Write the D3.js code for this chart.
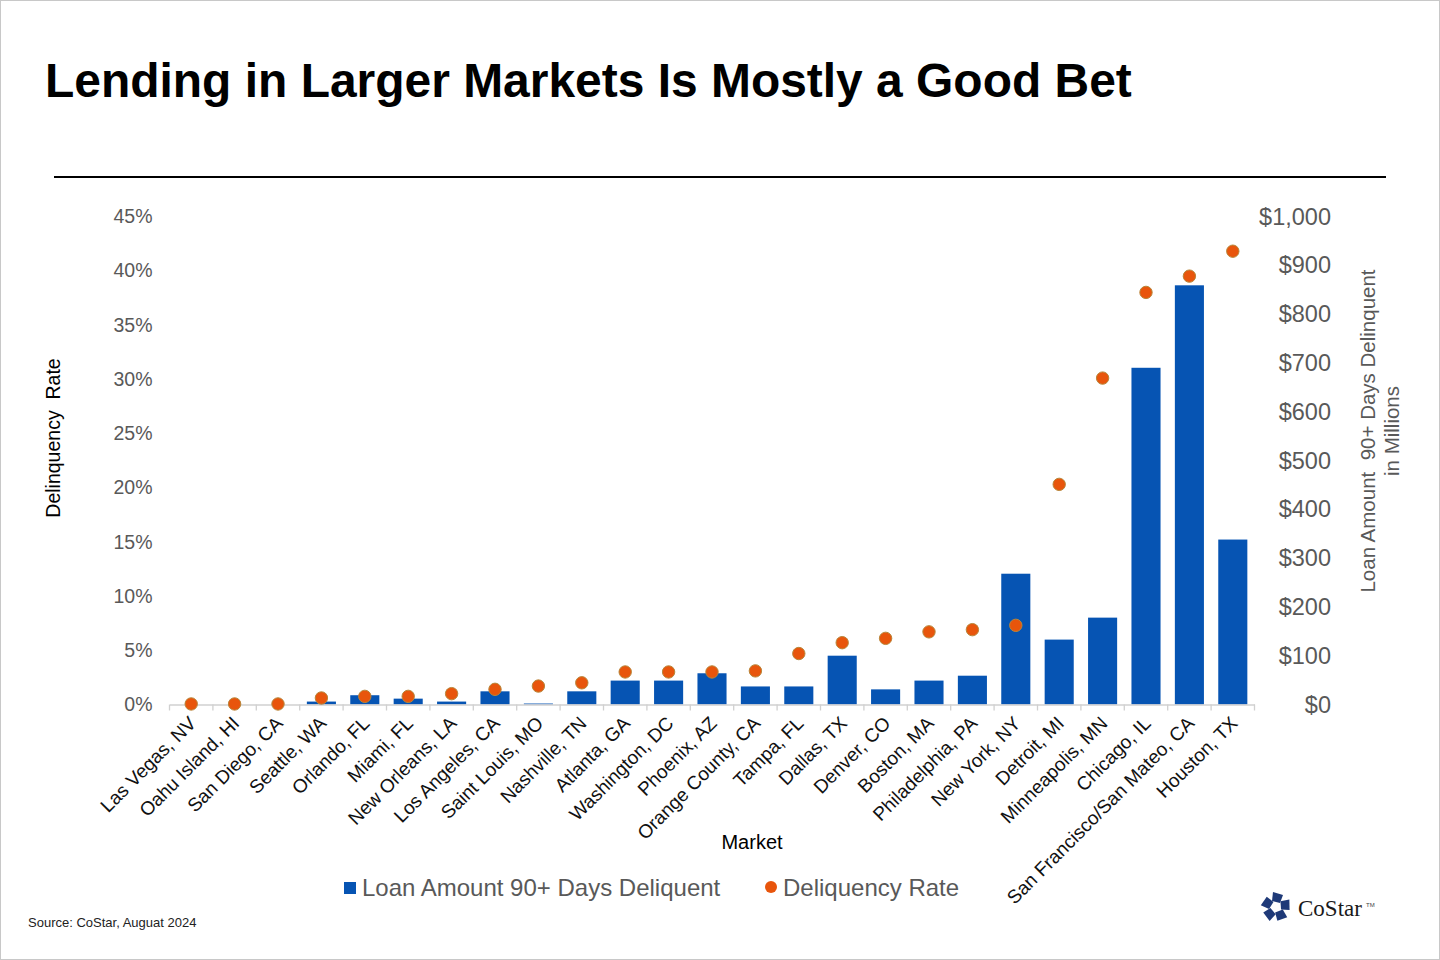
<!DOCTYPE html>
<html>
<head>
<meta charset="utf-8">
<script src="https://cdn.jsdelivr.net/npm/d3@7"></script>
<style>
  html, body { margin: 0; padding: 0; background: #fff; }
  svg { display: block; font-family: Arial, "Liberation Sans", sans-serif; }
</style>
</head>
<body>
<svg id="chart" width="1440" height="960"></svg>
<script>
const categories = ["Las Vegas, NV","Oahu Island, HI","San Diego, CA","Seattle, WA","Orlando, FL","Miami, FL","New Orleans, LA","Los Angeles, CA","Saint Louis, MO","Nashville, TN","Atlanta, GA","Washington, DC","Phoenix, AZ","Orange County, CA","Tampa, FL","Dallas, TX","Denver, CO","Boston, MA","Philadelphia, PA","New York, NY","Detroit, MI","Minneapolis, MN","Chicago, IL","San Francisco/San Mateo, CA","Houston, TX"];
const loanAmount = [0,0,0,6,19,12,6,27,2,27,49,49,64,37,37,100,31,49,59,268,133,178,690,859,338];
const delinquencyRate = [0.05,0.05,0.05,0.6,0.75,0.75,1.0,1.4,1.7,2.0,3.0,3.0,3.0,3.1,4.7,5.7,6.1,6.7,6.9,7.3,20.3,30.1,38.0,39.5,41.8];
const rateTicks = [0,5,10,15,20,25,30,35,40,45];
const amountTicks = [0,100,200,300,400,500,600,700,800,900,1000];
const titleText = "Lending in Larger Markets Is Mostly a Good Bet";
const seriesNames = ["Loan Amount 90+ Days Deliquent","Deliquency Rate"];
const sourceText = "Source: CoStar, Auguat 2024";

const svg = d3.select("#chart");
const BLUE = "#0654b3", ORANGE = "#e8550c", GREY = "#595959";

// frame
svg.append("rect").attr("x",0.5).attr("y",0.5).attr("width",1439).attr("height",959)
  .attr("fill","#fff").attr("stroke","#c8c8c8");

// title
const title = svg.append("text").attr("x",45).attr("y",97)
  .attr("font-size",46).attr("font-weight","bold").attr("fill","#000").text(titleText);
const tw = title.node().getComputedTextLength();
title.attr("font-size", 46*1087/tw);

svg.append("line").attr("x1",54).attr("x2",1386).attr("y1",177).attr("y2",177)
  .attr("stroke","#000").attr("stroke-width",2);

const left = 169.5, right = 1254.5, y0 = 704.5, yTop = 216.5;
const x = d3.scaleBand().domain(categories).range([left,right]).paddingInner(0.33).paddingOuter(0.165);
const xb = d3.scaleBand().domain(categories).range([left,right]);
const yL = d3.scaleLinear().domain([0,45]).range([y0,yTop]);
const yR = d3.scaleLinear().domain([0,1000]).range([y0,yTop]);

// bars
svg.append("g").selectAll("rect").data(categories).join("rect")
  .attr("x",d=>x(d)).attr("width",x.bandwidth())
  .attr("y",(d,i)=>yR(loanAmount[i])).attr("height",(d,i)=>y0-yR(loanAmount[i]))
  .attr("fill",BLUE);

// x axis line and ticks
const ax = svg.append("g").attr("transform",`translate(0,${y0})`)
  .call(d3.axisBottom(xb).tickSize(0).tickFormat(""));
ax.select(".domain").attr("stroke","#d0d0d0").attr("stroke-width",1.3);
const bounds = categories.map(c=>xb(c)).concat([right]);
svg.append("g").selectAll("line").data(bounds).join("line")
  .attr("x1",d=>d).attr("x2",d=>d).attr("y1",y0).attr("y2",y0+6)
  .attr("stroke","#d0d0d0").attr("stroke-width",1.3);

// dots
svg.append("g").selectAll("circle").data(categories).join("circle")
  .attr("cx",d=>xb(d)+xb.bandwidth()/2).attr("cy",(d,i)=>yL(delinquencyRate[i]))
  .attr("r",6.2).attr("fill",ORANGE).attr("stroke","#b8863a").attr("stroke-width",1);

// x labels
svg.append("g").selectAll("text").data(categories).join("text")
  .attr("transform",d=>`translate(${xb(d)+xb.bandwidth()/2+6},${y0+20}) rotate(-45)`)
  .attr("text-anchor","end").attr("font-size",19).attr("fill","#111").text(d=>d);

// left axis
const gl = svg.append("g").attr("transform",`translate(${left},0)`)
  .call(d3.axisLeft(yL).tickValues(rateTicks).tickSize(0).tickPadding(17).tickFormat(d=>d+"%"));
gl.select(".domain").remove();
gl.selectAll("text").attr("font-size",19.5).attr("fill",GREY).attr("font-family","Arial, Liberation Sans, sans-serif");

// right axis
const gr = svg.append("g").attr("transform",`translate(1331,0)`)
  .call(d3.axisLeft(yR).tickValues(amountTicks).tickSize(0).tickPadding(0).tickFormat(d=>"$"+d3.format(",")(d)));
gr.select(".domain").remove();
gr.selectAll("text").attr("font-size",23.5).attr("fill",GREY).attr("font-family","Arial, Liberation Sans, sans-serif");

// axis titles
svg.append("text").attr("transform","translate(60,438) rotate(-90)").attr("text-anchor","middle")
  .attr("font-size",19.5).attr("fill","#000").attr("xml:space","preserve").text("Delinquency  Rate");
svg.append("text").attr("x",752).attr("y",849).attr("text-anchor","middle")
  .attr("font-size",20).attr("fill","#000").text("Market");
const rt = svg.append("text").attr("transform","translate(1375,431) rotate(-90)").attr("text-anchor","middle")
  .attr("font-size",20.5).attr("fill",GREY).attr("xml:space","preserve");
rt.append("tspan").attr("x",0).attr("dy",0).text("Loan Amount  90+ Days Delinquent");
rt.append("tspan").attr("x",0).attr("dy",24).text("in Millions");

// legend
svg.append("rect").attr("x",344).attr("y",882).attr("width",12).attr("height",12).attr("fill",BLUE);
svg.append("text").attr("x",362).attr("y",896).attr("font-size",24).attr("fill",GREY).text(seriesNames[0]);
svg.append("circle").attr("cx",771).attr("cy",887).attr("r",6).attr("fill",ORANGE);
svg.append("text").attr("x",783).attr("y",896).attr("font-size",24).attr("fill",GREY).text(seriesNames[1]);

// source
svg.append("text").attr("x",28).attr("y",927).attr("font-size",13)
  .attr("font-family","'Liberation Sans Narrow', 'Arial Narrow', Arial, sans-serif")
  .attr("fill","#222").text(sourceText);

// CoStar logo
const logo = svg.append("g").attr("transform","translate(1276,907)");
const piece = [[-3,-15],[7,-12],[4,-4],[-4,-6]];
for (let k=0;k<5;k++) {
  logo.append("polygon").attr("points",piece.map(p=>p.join(",")).join(" "))
    .attr("fill","#1f3a78").attr("transform",`rotate(${k*72})`);
}
svg.append("text").attr("x",1298).attr("y",916).attr("font-size",23)
  .attr("font-family","'Liberation Serif', 'DejaVu Serif', serif").attr("fill","#1a1a1a").text("CoStar");
svg.append("text").attr("x",1366).attr("y",907).attr("font-size",6).attr("fill","#444").text("TM");
</script>
</body>
</html>
